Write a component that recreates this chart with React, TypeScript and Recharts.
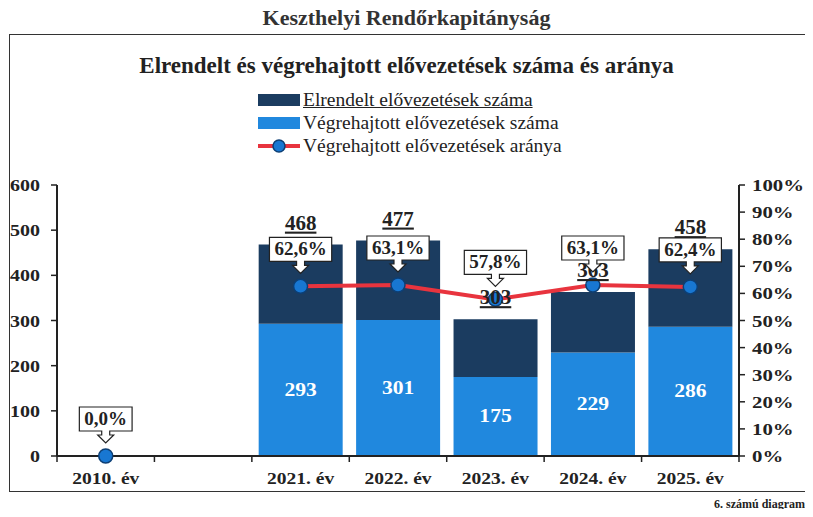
import React from 'react';
import { ComposedChart, Bar, Line, XAxis, YAxis, LabelList } from 'recharts';

const categories = ['2010. év', '', '2021. év', '2022. év', '2023. év', '2024. év', '2025. év'];
const elrendelt = [null, null, 468, 477, 303, 363, 458];
const vegrehajtott = [null, null, 293, 301, 175, 229, 286];
const arany = [0, null, 62.6, 63.1, 57.8, 63.1, 62.4];

const leftTicks = [0, 100, 200, 300, 400, 500, 600];
const rightTicks = [0, 10, 20, 30, 40, 50, 60, 70, 80, 90, 100];

const DARK = '#1b3c60';
const LIGHT = '#2088de';
const RED = '#e8343e';
const SERIF = '"Liberation Serif", "Times New Roman", serif';

const data = categories.map((c, i) => ({
  name: c,
  vegrehajtott: vegrehajtott[i],
  maradek: elrendelt[i] != null && vegrehajtott[i] != null ? elrendelt[i]! - vegrehajtott[i]! : null,
  total: elrendelt[i],
  arany: arany[i],
}));

const W = 813;
const H = 517;
const PLOT_LEFT = 57;
const PLOT_RIGHT = 739;
const BAND = (PLOT_RIGHT - PLOT_LEFT) / categories.length;

const fmtPct = (v: number) => v.toFixed(1).replace('.', ',') + '%';

// the scanned original has wide, stretched lettering
const SText = ({ x, y, sx = 1.3, anchor = 'middle', size = 16, fill = '#222', children, ...rest }: any) => (
  <text transform={`translate(${x},${y}) scale(${sx},1)`} x={0} y={0} textAnchor={anchor}
    fontFamily={SERIF} fontWeight="bold" fontSize={size} fill={fill} {...rest}>
    {children}
  </text>
);

const XTick = (props: any) => {
  const { x, y, payload, index } = props;
  return (
    <g>
      <line x1={x - BAND / 2} x2={x - BAND / 2} y1={y} y2={y + 6} stroke="#222" strokeWidth={1.5} />
      {index === categories.length - 1 && (
        <line x1={x + BAND / 2} x2={x + BAND / 2} y1={y} y2={y + 6} stroke="#222" strokeWidth={1.5} />
      )}
      <SText x={x} y={y + 28} sx={1.22}>{payload.value}</SText>
    </g>
  );
};

const LeftTick = (props: any) => {
  const { x, y, payload } = props;
  return <SText x={x} y={y + 6} anchor="end" sx={1.25}>{payload.value}</SText>;
};

const RightTick = (props: any) => {
  const { x, y, payload } = props;
  return <SText x={x} y={y + 6} anchor="start" sx={1.3}>{`${payload.value}%`}</SText>;
};

const Callout = (props: any) => {
  const { x, y, value } = props;
  if (value == null) return null;
  const text = fmtPct(value);
  const fs = 19;
  const digits = text.replace(/[^0-9]/g, '').length;
  const w = (digits * 0.5 + 1.25) * fs + 10;
  const top = y - 49;
  const bottom = y - 25;
  const tip = y - 13;
  const d = `M${x - w / 2},${top} H${x + w / 2} V${bottom} H${x + 4} V${bottom + 4} H${x + 8} L${x},${tip} L${x - 8},${bottom + 4} H${x - 4} V${bottom} H${x - w / 2} Z`;
  return (
    <g>
      <path d={d} fill="#fff" stroke="#222" strokeWidth={1.2} />
      <text x={x} y={bottom - 6} textAnchor="middle" fontFamily={SERIF} fontWeight="bold" fontSize={fs} fill="#222">
        {text}
      </text>
    </g>
  );
};

const TotalLabel = (props: any) => {
  const { x, y, width, value } = props;
  if (value == null) return null;
  return (
    <text x={x + width / 2} y={y - 15} textAnchor="middle" fontFamily={SERIF} fontWeight="bold" fontSize={21}
      fill="#222" textDecoration="underline">
      {value}
    </text>
  );
};

const InnerLabel = (props: any) => {
  const { x, y, width, height, value } = props;
  if (value == null) return null;
  return <SText x={x + width / 2} y={y + height / 2 + 6} sx={1.2} size={18} fill="#fff">{value}</SText>;
};

const Dot = (props: any) => {
  const { cx, cy, value } = props;
  if (value == null || cx == null || cy == null) return <g key={props.index} />;
  return <circle key={props.index} cx={cx} cy={cy} r={7} fill="#1877d2" stroke="#0d3f75" strokeWidth={1.5} />;
};

const legendText: React.CSSProperties = { fontFamily: SERIF, fontSize: 19.5, color: '#222', lineHeight: '23px' };

export default function App() {
  return (
    <div style={{ position: 'relative', width: W, height: H, margin: -8, background: '#fff', overflow: 'hidden' }}>
      <div style={{ position: 'absolute', left: 0, width: W, top: 5, textAlign: 'center', fontFamily: SERIF,
        fontWeight: 'bold', fontSize: 22, color: '#333' }}>
        Keszthelyi Rendőrkapitányság
      </div>
      <div style={{ position: 'absolute', left: 9, top: 34, width: 797, height: 458, border: '1.5px solid #333',
        boxSizing: 'border-box' }} />
      <div style={{ position: 'absolute', left: 0, width: W, top: 53, textAlign: 'center', fontFamily: SERIF,
        fontWeight: 'bold', fontSize: 23, color: '#222' }}>
        Elrendelt és végrehajtott elővezetések száma és aránya
      </div>
      <div style={{ position: 'absolute', left: 258, top: 88 }}>
        <div style={{ display: 'flex', alignItems: 'center' }}>
          <div style={{ width: 42, height: 12, background: DARK, marginRight: 3 }} />
          <span style={{ ...legendText, textDecoration: 'underline' }}>Elrendelt elővezetések száma</span>
        </div>
        <div style={{ display: 'flex', alignItems: 'center' }}>
          <div style={{ width: 42, height: 12, background: LIGHT, marginRight: 3 }} />
          <span style={legendText}>Végrehajtott elővezetések száma</span>
        </div>
        <div style={{ display: 'flex', alignItems: 'center' }}>
          <svg width={42} height={16} style={{ marginRight: 3 }}>
            <line x1={0} x2={42} y1={8} y2={8} stroke={RED} strokeWidth={4} />
            <circle cx={21} cy={8} r={6} fill="#1877d2" stroke="#0d3f75" strokeWidth={1.5} />
          </svg>
          <span style={legendText}>Végrehajtott elővezetések aránya</span>
        </div>
      </div>
      <div style={{ position: 'absolute', left: 0, top: 0 }}>
        <ComposedChart width={W} height={H} data={data} barCategoryGap="7%"
          margin={{ top: 185, right: 8, bottom: 31, left: 12 }}>
          <XAxis dataKey="name" tick={<XTick />} tickLine={false} tickSize={0} tickMargin={0}
            axisLine={{ stroke: '#222', strokeWidth: 2 }} interval={0} height={30} />
          <YAxis yAxisId="left" domain={[0, 600]} ticks={leftTicks} width={45} tickSize={6} tickMargin={11}
            axisLine={{ stroke: '#222', strokeWidth: 2 }} tickLine={{ stroke: '#222', strokeWidth: 1.5 }}
            tick={<LeftTick />} />
          <YAxis yAxisId="right" orientation="right" domain={[0, 100]} ticks={rightTicks} width={66}
            tickSize={6} tickMargin={7}
            axisLine={{ stroke: '#222', strokeWidth: 2 }} tickLine={{ stroke: '#222', strokeWidth: 1.5 }}
            tick={<RightTick />} />
          <Bar yAxisId="left" dataKey="vegrehajtott" stackId="a" fill={LIGHT} isAnimationActive={false}>
            <LabelList dataKey="vegrehajtott" content={<InnerLabel />} />
          </Bar>
          <Bar yAxisId="left" dataKey="maradek" stackId="a" fill={DARK} isAnimationActive={false}>
            <LabelList dataKey="total" content={<TotalLabel />} />
          </Bar>
          <Line yAxisId="right" dataKey="arany" stroke={RED} strokeWidth={4} dot={<Dot />} activeDot={false}
            connectNulls={false} isAnimationActive={false}>
            <LabelList dataKey="arany" content={<Callout />} />
          </Line>
        </ComposedChart>
      </div>
      <div style={{ position: 'absolute', right: 8, top: 497, fontFamily: SERIF, fontWeight: 'bold', fontSize: 12,
        lineHeight: '14px', color: '#222' }}>
        6. számú diagram
      </div>
    </div>
  );
}
